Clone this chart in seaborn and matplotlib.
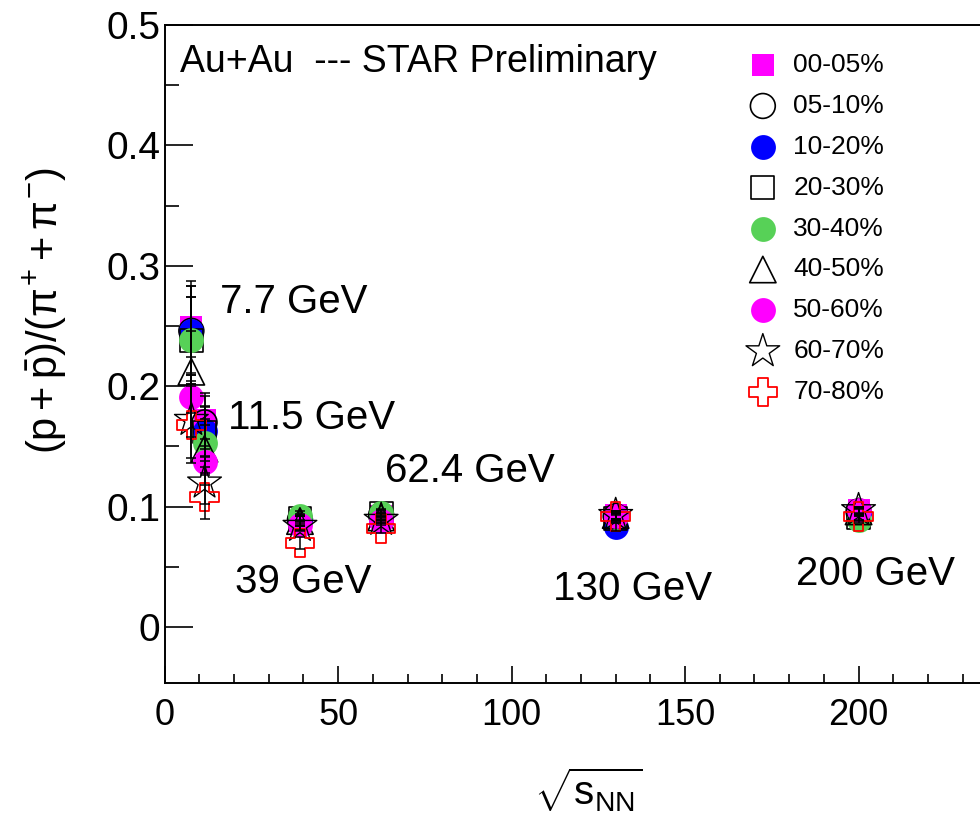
import matplotlib
matplotlib.use("Agg")
import matplotlib.pyplot as plt
from matplotlib.ticker import MultipleLocator, FuncFormatter
import numpy as np
import pandas as pd
import seaborn as sns

# Collision energies (GeV)
energies = [7.7, 11.5, 39, 62.4, 130, 200]
energy_labels = ["7.7 GeV", "11.5 GeV", "39 GeV", "62.4 GeV", "130 GeV", "200 GeV"]

centralities = ["00-05%", "05-10%", "10-20%", "20-30%", "30-40%",
                "40-50%", "50-60%", "60-70%", "70-80%"]

# (p+pbar)/(pi+ + pi-) ratio per centrality class, one value per energy
ratio_00_05 = [0.249, 0.172, 0.088, 0.092, 0.093, 0.097]
ratio_05_10 = [0.246, 0.170, 0.089, 0.093, 0.092, 0.096]
ratio_10_20 = [0.246, 0.163, 0.088, 0.092, 0.083, 0.095]
ratio_20_30 = [0.238, 0.162, 0.090, 0.094, 0.090, 0.091]
ratio_30_40 = [0.238, 0.153, 0.092, 0.095, 0.091, 0.089]
ratio_40_50 = [0.212, 0.148, 0.088, 0.091, 0.093, 0.096]
ratio_50_60 = [0.191, 0.137, 0.085, 0.088, 0.092, 0.097]
ratio_60_70 = [0.172, 0.120, 0.084, 0.089, 0.093, 0.097]
ratio_70_80 = [0.168, 0.108, 0.070, 0.082, 0.092, 0.092]

# uncertainties
err_00_05 = [0.038, 0.022, 0.004, 0.003, 0.003, 0.003]
err_05_10 = [0.037, 0.022, 0.004, 0.003, 0.003, 0.003]
err_10_20 = [0.037, 0.021, 0.004, 0.003, 0.003, 0.003]
err_20_30 = [0.036, 0.021, 0.004, 0.003, 0.003, 0.003]
err_30_40 = [0.036, 0.020, 0.004, 0.003, 0.003, 0.003]
err_40_50 = [0.034, 0.020, 0.004, 0.003, 0.003, 0.003]
err_50_60 = [0.033, 0.019, 0.004, 0.003, 0.003, 0.003]
err_60_70 = [0.032, 0.018, 0.004, 0.003, 0.003, 0.003]
err_70_80 = [0.032, 0.018, 0.005, 0.004, 0.003, 0.003]

ratios = [ratio_00_05, ratio_05_10, ratio_10_20, ratio_20_30, ratio_30_40,
          ratio_40_50, ratio_50_60, ratio_60_70, ratio_70_80]
errors = [err_00_05, err_05_10, err_10_20, err_20_30, err_30_40,
          err_40_50, err_50_60, err_60_70, err_70_80]

rows = []
for cent, rr, ee in zip(centralities, ratios, errors):
    for e, r, err in zip(energies, rr, ee):
        rows.append({"energy": e, "ratio": r, "err": err, "centrality": cent})
df = pd.DataFrame(rows)

# marker style per centrality: (marker, face, edge, size, edge width)
styles = {
    "00-05%": ("s", "#ff00ff", "#ff00ff", 270, 0.0),
    "05-10%": ("o", "none", "black", 320, 1.2),
    "10-20%": ("o", "#0000ff", "#0000ff", 320, 0.0),
    "20-30%": ("s", "none", "black", 270, 1.2),
    "30-40%": ("o", "#57d157", "#57d157", 320, 0.0),
    "40-50%": ("^", "none", "black", 360, 1.2),
    "50-60%": ("o", "#ff00ff", "#ff00ff", 320, 0.0),
    "60-70%": ("*", "none", "black", 650, 1.0),
    "70-80%": ("P", "none", "red", 420, 1.3),
}

sns.set_theme(style="ticks")
plt.rcParams["font.family"] = ["Liberation Sans", "DejaVu Sans"]
plt.rcParams["mathtext.fontset"] = "custom"
plt.rcParams["mathtext.rm"] = "Liberation Sans"
plt.rcParams["mathtext.it"] = "Liberation Sans"
plt.rcParams["mathtext.sf"] = "Liberation Sans"
plt.rcParams["text.color"] = "black"
plt.rcParams["axes.labelcolor"] = "black"
plt.rcParams["xtick.color"] = "black"
plt.rcParams["ytick.color"] = "black"

fig = plt.figure(figsize=(9.8, 8.18), dpi=100)
ax = fig.add_axes([0.168, 0.165, 0.832, 0.8044])

for i, cent in enumerate(centralities):
    sub = df[df["centrality"] == cent]
    mk, fc, ec, sz, lw = styles[cent]
    sns.scatterplot(data=sub, x="energy", y="ratio", marker=mk, s=sz,
                    facecolors=fc, edgecolor=ec, linewidth=lw,
                    label=cent, ax=ax, zorder=3 + i)

# error bars on top of the markers
for cent in centralities:
    sub = df[df["centrality"] == cent]
    ax.errorbar(sub["energy"], sub["ratio"], yerr=sub["err"], fmt="none",
                ecolor="black", elinewidth=1.1, capsize=3.5, capthick=1.1,
                zorder=20)

ax.set_xlim(0, 235)
ax.set_ylim(-0.0465, 0.5)
ax.xaxis.set_major_locator(MultipleLocator(50))
ax.xaxis.set_minor_locator(MultipleLocator(10))
ax.yaxis.set_major_locator(MultipleLocator(0.1))
ax.yaxis.set_minor_locator(MultipleLocator(0.05))
ax.yaxis.set_major_formatter(FuncFormatter(lambda v, p: "0" if abs(v) < 1e-9 else f"{v:.1f}"))
ax.xaxis.set_major_formatter(FuncFormatter(lambda v, p: f"{v:.0f}"))

ax.tick_params(axis="y", which="major", direction="in", length=20, width=1.2,
               labelsize=28, pad=3)
ax.tick_params(axis="y", which="minor", direction="in", length=10, width=1.2)
ax.tick_params(axis="x", which="major", direction="in", length=12, width=1.2,
               labelsize=26, pad=11)
ax.tick_params(axis="x", which="minor", direction="in", length=6.5, width=1.2)

for side in ["left", "bottom", "top"]:
    ax.spines[side].set_linewidth(1.4)
    ax.spines[side].set_color("black")
ax.spines["right"].set_visible(False)

ax.set_xlabel("")
ax.set_ylabel("")
fig.text(0.046, 0.62, r"$(\mathrm{p}+\bar{\mathrm{p}})/(\pi^{+}+\pi^{-})$",
         rotation=90, ha="center", va="center", fontsize=30)
fig.text(0.600, 0.034, r"$\sqrt{\mathrm{s}_{\mathrm{NN}}}$",
         ha="center", va="center", fontsize=29)

ax.text(4.3, 0.469, "Au+Au  --- STAR Preliminary", fontsize=27,
        ha="left", va="center")

label_pos = [(15.9, 0.270), (18.2, 0.174), (20.2, 0.037),
             (63.4, 0.130), (111.8, 0.032), (182.1, 0.044)]
for txt, (lx, ly) in zip(energy_labels, label_pos):
    ax.text(lx, ly, txt, fontsize=29, ha="left", va="center")

ax.legend(loc="upper left", bbox_to_anchor=(747 / 980, 1 - 53 / 818),
          bbox_transform=fig.transFigure, frameon=False, fontsize=19,
          handlelength=1.2, handletextpad=0.55, labelspacing=0.64,
          borderpad=0, borderaxespad=0, scatterpoints=1)

fig.savefig("out.png", dpi=100)
